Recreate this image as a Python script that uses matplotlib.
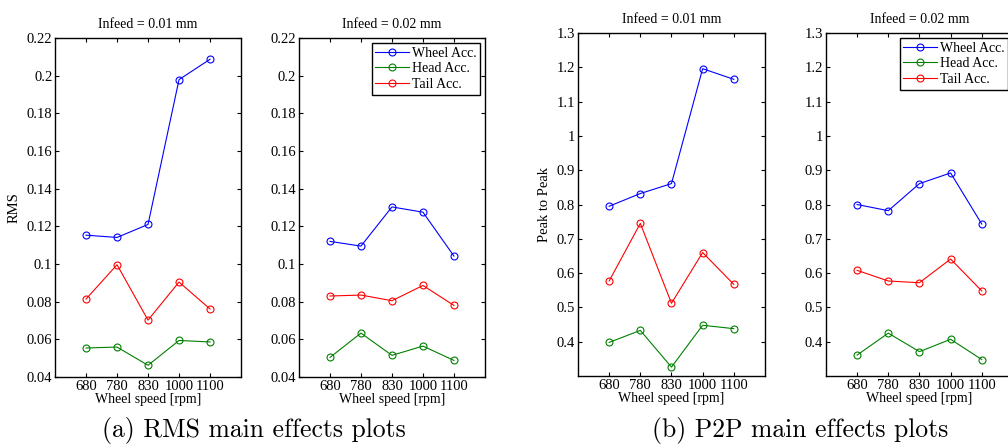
import numpy as np
import matplotlib
matplotlib.use("Agg")
import matplotlib.pyplot as plt
import matplotlib as mpl

mpl.rcParams['font.family'] = 'Liberation Serif'
mpl.rcParams['axes.linewidth'] = 1
mpl.rcParams['xtick.direction'] = 'in'
mpl.rcParams['ytick.direction'] = 'in'
mpl.rcParams['xtick.top'] = True
mpl.rcParams['ytick.right'] = True
mpl.rcParams['xtick.major.size'] = 3
mpl.rcParams['ytick.major.size'] = 3
mpl.rcParams['xtick.labelsize'] = 10.5
mpl.rcParams['ytick.labelsize'] = 10.5

speeds = ["680", "780", "830", "1000", "1100"]
series = ["Wheel Acc.", "Head Acc.", "Tail Acc."]
colors = ["#0000ff", "#008000", "#ff0000"]

# RMS, infeed 0.01 / 0.02
rms_01_wheel = [0.1153, 0.1141, 0.1210, 0.1979, 0.2087]
rms_01_head = [0.0554, 0.0559, 0.0462, 0.0594, 0.0586]
rms_01_tail = [0.0814, 0.0996, 0.0702, 0.0904, 0.0761]
rms_02_wheel = [0.1120, 0.1095, 0.1303, 0.1275, 0.1042]
rms_02_head = [0.0504, 0.0633, 0.0515, 0.0564, 0.0488]
rms_02_tail = [0.0830, 0.0835, 0.0805, 0.0886, 0.0780]

# peak to peak, infeed 0.01 / 0.02
p2p_01_wheel = [0.795, 0.832, 0.861, 1.196, 1.165]
p2p_01_head = [0.398, 0.433, 0.326, 0.448, 0.438]
p2p_01_tail = [0.577, 0.745, 0.512, 0.660, 0.567]
p2p_02_wheel = [0.800, 0.782, 0.861, 0.892, 0.743]
p2p_02_head = [0.361, 0.425, 0.371, 0.407, 0.348]
p2p_02_tail = [0.608, 0.577, 0.572, 0.641, 0.548]

rms_ticks = [0.04, 0.06, 0.08, 0.1, 0.12, 0.14, 0.16, 0.18, 0.2, 0.22]
rms_ticklabels = ["0.04", "0.06", "0.08", "0.1", "0.12", "0.14", "0.16", "0.18", "0.2", "0.22"]
p2p_ticks = [0.4, 0.5, 0.6, 0.7, 0.8, 0.9, 1.0, 1.1, 1.2, 1.3]
p2p_ticklabels = ["0.4", "0.5", "0.6", "0.7", "0.8", "0.9", "1", "1.1", "1.2", "1.3"]

fig = plt.figure(figsize=(10.08, 4.48), dpi=100)

panels = [
    ([0.0546, 0.1585, 0.1845, 0.7567], "Infeed = 0.01 mm", "RMS",
     [rms_01_wheel, rms_01_head, rms_01_tail], (0.04, 0.22), rms_ticks, rms_ticklabels, False),
    ([0.2966, 0.1585, 0.1845, 0.7567], "Infeed = 0.02 mm", None,
     [rms_02_wheel, rms_02_head, rms_02_tail], (0.04, 0.22), rms_ticks, rms_ticklabels, True),
    ([0.5734, 0.1607, 0.1855, 0.7656], "Infeed = 0.01 mm", "Peak to Peak",
     [p2p_01_wheel, p2p_01_head, p2p_01_tail], (0.3, 1.3), p2p_ticks, p2p_ticklabels, False),
    ([0.8194, 0.1607, 0.1855, 0.7656], "Infeed = 0.02 mm", None,
     [p2p_02_wheel, p2p_02_head, p2p_02_tail], (0.3, 1.3), p2p_ticks, p2p_ticklabels, True),
]

x = np.arange(1, len(speeds) + 1)
for rect, title, ylab, data, ylim, yt, ytl, leg in panels:
    ax = fig.add_axes(rect)
    for vals, name, c in zip(data, series, colors):
        ax.plot(x, vals, '-o', color=c, lw=0.8, ms=5, mfc='none', mew=0.8, label=name)
    ax.set_xlim(0, 6)
    ax.set_ylim(*ylim)
    ax.set_xticks(x)
    ax.set_xticklabels(speeds)
    ax.set_yticks(yt)
    ax.set_yticklabels(ytl)
    ax.tick_params(pad=2)
    ax.set_title(title, fontsize=10, pad=7)
    ax.set_xlabel("Wheel speed [rpm]", fontsize=10, labelpad=0)
    if ylab:
        ax.set_ylabel(ylab, fontsize=10.5, labelpad=4)
    if leg:
        l = ax.legend(loc='upper right', fontsize=10, fancybox=False, edgecolor='k',
                      framealpha=1, borderaxespad=0.35, handlelength=2.4,
                      handletextpad=0.2, labelspacing=0.18, borderpad=0.28)
        l.get_frame().set_linewidth(1)

fig.text(0.252, 0.024, "(a) RMS main effects plots", fontsize=18.5, family='cmr10',
         ha='center', va='baseline')
fig.text(0.794, 0.024, "(b) P2P main effects plots", fontsize=18.5, family='cmr10',
         ha='center', va='baseline')

fig.savefig("out.png", dpi=100)
